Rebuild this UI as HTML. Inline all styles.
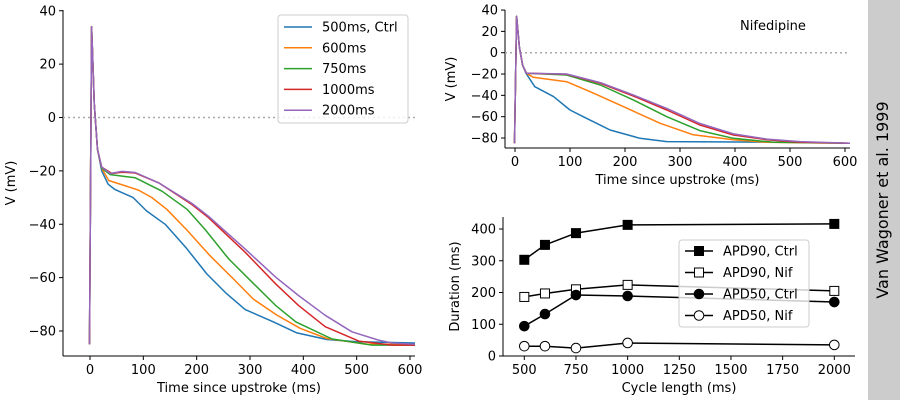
<!DOCTYPE html>
<html><head><meta charset="utf-8"><style>
body{margin:0;background:#fff;}
svg{display:block;font-family:"DejaVu Sans","Liberation Sans",sans-serif;}
</style></head><body>
<svg id="chart" width="900" height="400" viewBox="0 0 900 400">
<rect x="868" y="0" width="32" height="400" fill="#cccccc"/>
<text x="888" y="200" font-size="16" text-anchor="middle" transform="rotate(-90 888 200)">Van Wagoner et al. 1999</text>
</svg>
<script>
const colors=['#1f77b4','#ff7f0e','#2ca02c','#d62728','#9467bd'];
const seriesNames=['500ms, Ctrl','600ms','750ms','1000ms','2000ms'];
const up=[[-1,-85],[3,34],[8,5],[14,-12]];
const ctrlBlue=[[22,-20],[34,-25],[47,-27],[81,-30],[106,-35],[141,-40],[181,-49],[219,-58.6],[256,-66],[291,-72],[344,-76.6],[388,-80.7],[444,-83.2],[500,-84],[610,-84.5]];
const ctrlOrange=[[22,-19],[35,-23.6],[91,-27.2],[116,-30],[144,-34.4],[181,-42],[225,-51.8],[269,-60.5],[306,-68],[350,-74],[394,-79],[444,-82.8],[520,-85],[610,-85]];
const ctrlGreen=[[22,-19],[38,-21.4],[85,-22.6],[135,-27.6],[182,-34.4],[216,-42],[260,-53],[304,-61.7],[348,-70.4],[386,-76.6],[454,-83],[529,-85.3],[610,-85.3]];
const ctrlRed=[[22,-18.6],[41,-21],[60,-20.5],[85,-20.8],[129,-24.5],[191,-32.6],[222,-37.5],[291,-50.5],[348,-62.3],[391,-70.4],[441,-78.4],[504,-83.8],[566,-85.3],[610,-85.3]];
const ctrlPurple=[[22,-18.6],[38,-21],[60,-20.2],[85,-20.6],[129,-24.5],[191,-32.2],[222,-37],[291,-49.3],[348,-59.8],[391,-66.7],[441,-74.1],[491,-80.3],[541,-83.4],[566,-84.5],[610,-85]];
const nifBlue=[[20,-19.3],[36,-31.9],[70,-41.2],[100,-53.7],[124,-60],[173,-72.5],[227,-80.3],[276,-83.4],[500,-84]];
const nifOrange=[[21,-19.3],[33,-23],[94,-27.2],[143,-38],[203,-52],[264,-66.2],[324,-77],[397,-81.6],[458,-84],[610,-85]];
const nifGreen=[[21,-19.3],[94,-20.9],[155,-30.3],[215,-44.3],[276,-60],[336,-73.1],[397,-80.3],[470,-84],[610,-85]];
const nifRed=[[21,-19.3],[94,-20.3],[155,-28.7],[215,-40.6],[276,-53.7],[336,-67.8],[397,-77.2],[458,-81.6],[518,-84],[610,-85]];
const nifPurple=[[21,-19.3],[94,-20],[155,-28],[215,-39.7],[276,-52.2],[336,-66.3],[397,-76.2],[458,-81],[518,-83.4],[610,-85]];
const cycleLengths=[500,600,750,1000,2000];
const apd90Ctrl=[303,350,387,413,416];
const apd90Nif=[186,197,210,224,205];
const apd50Ctrl=[94,132,192,189,170];
const apd50Nif=[31,31,25,41,35];
const apdNames=['APD90, Ctrl','APD90, Nif','APD50, Ctrl','APD50, Nif'];
const vTicks=[40,20,0,-20,-40,-60,-80];
const tTicks=[0,100,200,300,400,500,600];
const tTicksR=[0,100,200,300,400,500,600];
const vTicksR=[40,20,0,-20,-40,-60,-80];
const clTicks=[500,750,1000,1250,1500,1750,2000];
const durTicks=[0,100,200,300,400];

const svg=document.getElementById('chart');
const NS='http://www.w3.org/2000/svg';
function mk(tag,attrs,parent){const e=document.createElementNS(NS,tag);for(const k in attrs)e.setAttribute(k,attrs[k]);(parent||svg).appendChild(e);return e;}
function lin(d0,d1,r0,r1){return v=>r0+(v-d0)*(r1-r0)/(d1-d0);}
function fmt(v){return String(v).replace('-','\u2212');}

function axes(o){
  const g=mk('g',{});
  
  
  mk('line',{x1:o.x0,y1:o.y0,x2:o.x0,y2:o.y1,stroke:'#000','stroke-width':1},g);
  mk('line',{x1:o.x0,y1:o.y1,x2:o.x1,y2:o.y1,stroke:'#000','stroke-width':1},g);
  o.xt.forEach(t=>{const x=o.sx(t);mk('line',{x1:x,y1:o.y1,x2:x,y2:o.y1+4,stroke:'#000'},g);
    const tx=mk('text',{x:x,y:o.y1+18,'font-size':13,'text-anchor':'middle'},g);tx.textContent=fmt(t);
    
    });
  o.yt.forEach(t=>{const y=o.sy(t);mk('line',{x1:o.x0-4,y1:y,x2:o.x0,y2:y,stroke:'#000'},g);
    const tx=mk('text',{x:o.x0-7,y:y+4.5,'font-size':13,'text-anchor':'end'},g);tx.textContent=fmt(t);
    
    });
  const xl=mk('text',{x:(o.x0+o.x1)/2,y:o.y1+36,'font-size':13,'text-anchor':'middle'},g);xl.textContent=o.xlab;
  
  
  const yx=o.ylx,yy=(o.y0+o.y1)/2;
  const yl=mk('text',{x:yx,y:yy,'font-size':13,'text-anchor':'middle',transform:`rotate(-90 ${yx} ${yy})`},g);yl.textContent=o.ylab;
  
  
}
function path(pts,sx,sy,col,name,x0,x1){
  const d=pts.map((p,i)=>(i?'L':'M')+Math.min(Math.max(sx(p[0]),x0),x1).toFixed(1)+','+sy(p[1]).toFixed(1)).join('');
  const p=mk('path',{d:d,fill:'none',stroke:col,'stroke-width':1.5,'stroke-linejoin':'round'});
  
  
}

// Left panel
const sxL=lin(0,600,90,410), syL=lin(0,-80,117.5,331);
axes({name:'left-axes',x0:63,x1:415,y0:10,y1:356,sx:sxL,sy:syL,xt:tTicks,yt:vTicks,xlab:'Time since upstroke (ms)',ylab:'V (mV)',ylx:15});
mk('line',{x1:63,x2:415,y1:syL(0),y2:syL(0),stroke:'#aaa','stroke-width':1.5,'stroke-dasharray':'2,3'});
[ctrlBlue,ctrlOrange,ctrlGreen,ctrlRed,ctrlPurple].forEach((s,i)=>path(up.concat(s),sxL,syL,colors[i],'ctrl-trace-'+i,63,415));
const lg=mk('g',{});


mk('rect',{x:278,y:15,width:130,height:108,rx:3,fill:'#fff','fill-opacity':0.8,stroke:'#ccc'},lg);
seriesNames.forEach((n,i)=>{const y=27+i*20.8;
  mk('line',{x1:284,x2:312,y1:y,y2:y,stroke:colors[i],'stroke-width':1.5},lg);
  const t=mk('text',{x:322,y:y+4.5,'font-size':13},lg);t.textContent=n;
  
  });

// Right top
const sxR=lin(0,600,515,845), syR=lin(0,-80,52.7,138);
axes({name:'nifedipine-axes',x0:505,x1:850,y0:10,y1:148,sx:sxR,sy:syR,xt:tTicksR,yt:vTicksR,xlab:'Time since upstroke (ms)',ylab:'V (mV)',ylx:455});
mk('line',{x1:505,x2:850,y1:syR(0),y2:syR(0),stroke:'#aaa','stroke-width':1.5,'stroke-dasharray':'2,3'});
[nifBlue,nifOrange,nifGreen,nifRed,nifPurple].forEach((s,i)=>path(up.concat(s),sxR,syR,colors[i],'nif-trace-'+i,505,850));
const nt=mk('text',{x:773,y:30,'font-size':13,'text-anchor':'middle'});nt.textContent='Nifedipine';



// Right bottom
const sxB=lin(500,2000,524.3,834.3), syB=lin(0,400,356,229);
axes({name:'apd-axes',x0:503,x1:855,y0:217,y1:356,sx:sxB,sy:syB,xt:clTicks,yt:durTicks,xlab:'Cycle length (ms)',ylab:'Duration (ms)',ylx:459});
const apdSeries=[apd90Ctrl,apd90Nif,apd50Ctrl,apd50Nif];
const markers=[['sq','#000'],['sq','#fff'],['ci','#000'],['ci','#fff']];
function marker(x,y,m,parent){
  if(m[0]==='sq') return mk('rect',{x:x-4.5,y:y-4.5,width:9,height:9,fill:m[1],stroke:'#000','stroke-width':1},parent);
  return mk('circle',{cx:x,cy:y,r:4.8,fill:m[1],stroke:'#000','stroke-width':1},parent);
}
apdSeries.forEach((s,i)=>{
  const d=s.map((v,j)=>(j?'L':'M')+sxB(cycleLengths[j]).toFixed(1)+','+syB(v).toFixed(1)).join('');
  const p=mk('path',{d:d,fill:'none',stroke:'#000','stroke-width':1.5});
  
  
  s.forEach((v,j)=>{const m=marker(sxB(cycleLengths[j]),syB(v),markers[i]);
    
    });
});
const lb=mk('g',{});


mk('rect',{x:679,y:240,width:130,height:87,rx:3,fill:'#fff','fill-opacity':0.8,stroke:'#ccc'},lb);
apdNames.forEach((n,i)=>{const y=251+i*21.5;
  mk('line',{x1:685,x2:713,y1:y,y2:y,stroke:'#000','stroke-width':1.5},lb);
  marker(699,y,markers[i],lb);
  const t=mk('text',{x:723,y:y+4.5,'font-size':13},lb);t.textContent=n;
  
  });
</script>
</body></html>
